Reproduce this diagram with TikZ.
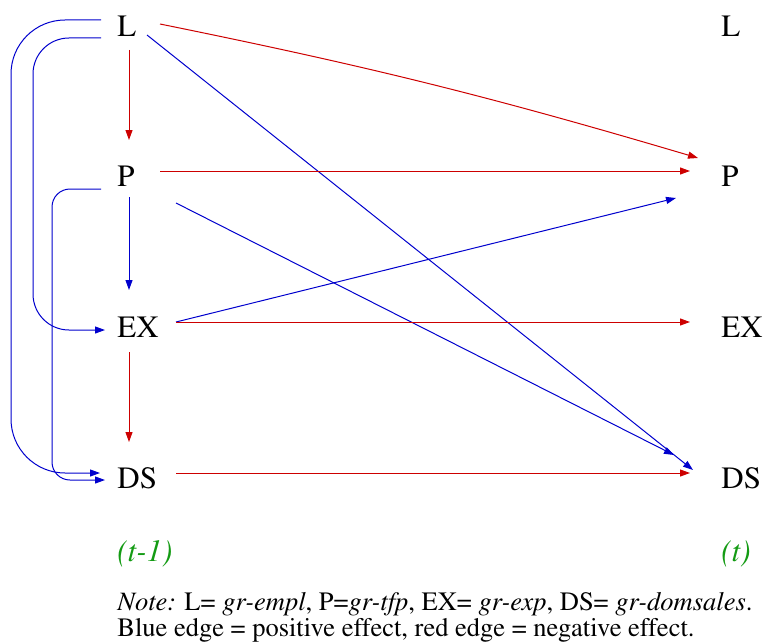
\documentclass[tikz,border=0pt]{standalone}
\usepackage[T1]{fontenc}
\usepackage{mathptmx}
\usepackage{tikz}
\usetikzlibrary{arrows.meta, positioning, calc}
\definecolor{posblue}{RGB}{0,0,205}
\definecolor{negred}{RGB}{205,0,0}
\definecolor{lagreen}{RGB}{20,155,20}

\begin{document}
\begin{tikzpicture}[x=0.5pt, y=-0.5pt,
    var/.style={anchor=west, inner sep=0pt, font=\fontsize{15.5}{18}\selectfont},
    lag/.style={anchor=base west, inner sep=0pt, text=lagreen, font=\fontsize{15.5}{18}\selectfont\itshape},
    note/.style={anchor=base west, inner sep=0pt, font=\fontsize{13.25}{15}\selectfont},
    posedge/.style={draw=posblue, line width=0.5pt, -{Triangle[length=5pt, width=3.5pt]}},
    negedge/.style={draw=negred, line width=0.5pt, -{Triangle[length=5pt, width=3.5pt]}}]
    \useasboundingbox (0,0) rectangle (764,642);

    % period t-1
    \node[var] (L1) at (117,26) {L};
    \node[var] (P1) at (117,176) {P};
    \node[var] (EX1) at (117,327) {EX};
    \node[var] (DS1) at (117,478) {DS};
    % period t
    \node[var] (L2) at (721,26) {L};
    \node[var] (P2) at (721,176) {P};
    \node[var] (EX2) at (721,327) {EX};
    \node[var] (DS2) at (721,478) {DS};

    \node[lag] (tm1) at (117,561) {(t-1)};
    \node[lag] (t) at (721,561) {(t)};

    % within t-1
    \draw[negedge] ($(L1.west)+(12,24)$) -- ($(P1.west)+(12,-36)$);
    \draw[posedge] ($(P1.west)+(12,21)$) -- ($(EX1.west)+(12,-37)$);
    \draw[negedge] ($(EX1.west)+(12,25)$) -- ($(DS1.west)+(12,-36)$);
    \draw[posedge, rounded corners=27pt] ($(L1.west)+(-16,-6)$) -| (11,250) |- ($(DS1.west)+(-17,-5)$);
    \draw[posedge, rounded corners=18pt] ($(L1.west)+(-16,12)$) -| (33,200) |- ($(EX1.west)+(-12,3)$);
    \draw[posedge, rounded corners=9pt] ($(P1.west)+(-16,13)$) -| (52,330) |- ($(DS1.west)+(-12,2)$);

    % t-1 to t
    \draw[negedge] ($(L1.west)+(43,-2)$) to[bend left=2.5] ($(P2.west)+(-23,-18)$);
    \draw[posedge] ($(L1.west)+(30,9)$) -- ($(DS2.west)+(-28,-8)$);
    \draw[negedge] ($(P1.west)+(43,-5)$) -- ($(P2.west)+(-31,-5)$);
    \draw[posedge] ($(P1.west)+(59,27)$) -- ($(DS2.west)+(-47,-23)$);
    \draw[posedge] ($(EX1.west)+(59,-5)$) -- ($(P2.west)+(-45,22)$);
    \draw[negedge] ($(EX1.west)+(59,-5)$) -- ($(EX2.west)+(-31,-5)$);
    \draw[negedge] ($(DS1.west)+(59,-5)$) -- ($(DS2.west)+(-31,-5)$);

    \node[note] (note1) at (117,610) {\textit{Note:} L= \textit{gr-empl}, P=\textit{gr-tfp}, EX= \textit{gr-exp}, DS= \textit{gr-domsales}.};
    \node[note] (note2) at (117,636) {Blue edge = positive effect, red edge = negative effect.};
\end{tikzpicture}
\end{document}
